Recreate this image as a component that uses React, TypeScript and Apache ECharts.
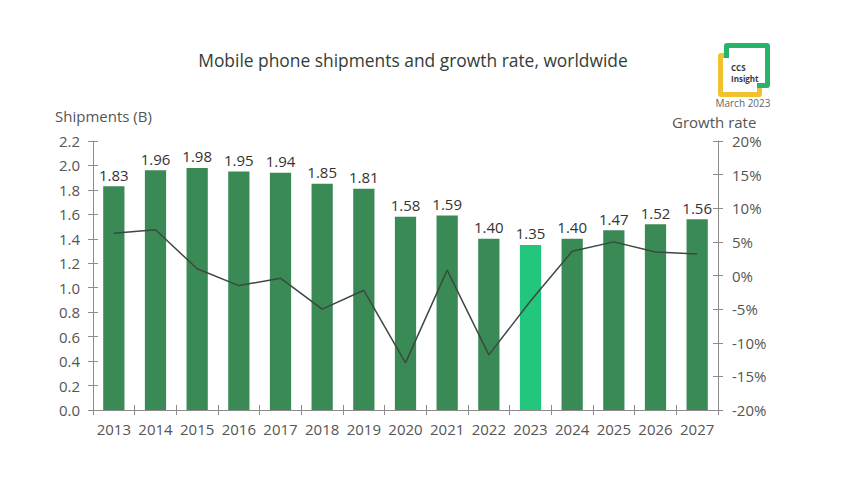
import React, { useEffect, useRef } from "react";
import * as echarts from "echarts";

const years = ["2013","2014","2015","2016","2017","2018","2019","2020","2021","2022","2023","2024","2025","2026","2027"];
const shipments = [1.83, 1.96, 1.98, 1.95, 1.94, 1.85, 1.81, 1.58, 1.59, 1.40, 1.35, 1.40, 1.47, 1.52, 1.56];
const growth = [6.3, 6.8, 1.0, -1.5, -0.4, -5.0, -2.2, -13.0, 0.8, -11.8, -3.8, 3.6, 5.0, 3.5, 3.2];
const highlightYear = "2023";

const FONT = "'Open Sans', Lato, sans-serif";
const AXIS = "#8c8c8c";
const LABEL = "#555";

export default function App() {
  const ref = useRef<HTMLDivElement>(null);
  useEffect(() => {
    if (!ref.current) return;
    const chart = echarts.init(ref.current, null, { renderer: "svg" });
    const tickOut = { show: true, length: 5, inside: false, interval: 0, lineStyle: { color: AXIS } };
    const tickIn = { show: true, length: 5, inside: true, interval: 0, lineStyle: { color: AXIS } };
    chart.setOption({
      animation: false,
      backgroundColor: "#fff",
      textStyle: { fontFamily: FONT },
      title: {
        text: "Mobile phone shipments and growth rate, worldwide",
        left: 408,
        textAlign: "center",
        top: 46,
        textStyle: { fontFamily: FONT, fontSize: 17.4, fontWeight: "normal", color: "#333d37" },
      },
      grid: { left: 93, right: 123, top: 141, bottom: 90 },
      xAxis: [
        {
          type: "category",
          data: years,
          position: "bottom",
          axisLine: { show: true, onZero: false, lineStyle: { color: AXIS } },
          axisTick: tickOut,
          axisLabel: { fontSize: 15, color: LABEL, margin: 11, fontFamily: FONT, interval: 0 },
        },
        {
          type: "category",
          data: years,
          position: "bottom",
          axisLine: { show: false, onZero: false },
          axisTick: tickIn,
          axisLabel: { show: false },
        },
      ],
      yAxis: [
        {
          type: "value",
          position: "left",
          min: 0,
          max: 2.2,
          interval: 0.2,
          axisLine: { show: true, lineStyle: { color: AXIS } },
          axisTick: tickOut,
          splitLine: { show: false },
          axisLabel: { fontSize: 15, color: LABEL, margin: 13, fontFamily: FONT, formatter: (v: number) => v.toFixed(1) },
        },
        {
          type: "value",
          position: "right",
          min: -20,
          max: 20,
          interval: 5,
          axisLine: { show: true, lineStyle: { color: AXIS } },
          axisTick: tickOut,
          splitLine: { show: false },
          axisLabel: { fontSize: 15, color: LABEL, margin: 14, fontFamily: FONT, formatter: (v: number) => v + "%" },
        },
        {
          type: "value",
          position: "left",
          min: 0,
          max: 2.2,
          interval: 0.2,
          axisLine: { show: false },
          axisTick: tickIn,
          splitLine: { show: false },
          axisLabel: { show: false },
        },
        {
          type: "value",
          position: "right",
          min: -20,
          max: 20,
          interval: 5,
          axisLine: { show: false },
          axisTick: tickIn,
          splitLine: { show: false },
          axisLabel: { show: false },
        },
      ],
      series: [
        {
          type: "bar",
          data: shipments.map((v, i) => ({
            value: v,
            itemStyle: { color: years[i] === highlightYear ? "#22c67c" : "#3a8a56" },
          })),
          barWidth: "51%",
          label: {
            show: true,
            position: "top",
            distance: 4,
            fontSize: 15,
            color: "#333",
            fontFamily: FONT,
            formatter: (p: any) => Number(p.value).toFixed(2),
          },
        },
        {
          type: "line",
          yAxisIndex: 1,
          data: growth,
          symbol: "none",
          lineStyle: { color: "#3b4a40", width: 1.5 },
          z: 5,
        },
      ],
      graphic: [
        { type: "text", left: 55, top: 108, style: { text: "Shipments (B)", fontSize: 15, fill: LABEL, fontFamily: FONT } },
        { type: "text", left: 672, top: 114, style: { text: "Growth rate", fontSize: 15, fill: LABEL, fontFamily: FONT } },
        { type: "rect", shape: { x: 718, y: 53, width: 44, height: 44, r: 3 }, style: { fill: "#f2c12e" } },
        { type: "rect", shape: { x: 724, y: 43, width: 46, height: 45, r: 3 }, style: { fill: "#27b36a" } },
        { type: "rect", shape: { x: 723, y: 58, width: 34, height: 34 }, style: { fill: "#fff" } },
        { type: "rect", shape: { x: 729, y: 48, width: 36, height: 35 }, style: { fill: "#fff" } },
        { type: "text", x: 731, y: 67, style: { text: "CCS", fontSize: 8, fontWeight: "bold", fill: "#3a3a3a", fontFamily: FONT, verticalAlign: "middle" } },
        { type: "text", x: 731, y: 78, style: { text: "Insight", fontSize: 8, fontWeight: "bold", fill: "#3a3a3a", fontFamily: FONT, verticalAlign: "middle" } },
        { type: "text", x: 743, y: 103, style: { text: "March 2023", fontSize: 10, fill: "#666", fontFamily: FONT, align: "center", verticalAlign: "middle" } },
      ],
    });
    return () => chart.dispose();
  }, []);
  return <div ref={ref} style={{ position: "fixed", left: 0, top: 0, width: 841, height: 500 }} />;
}
